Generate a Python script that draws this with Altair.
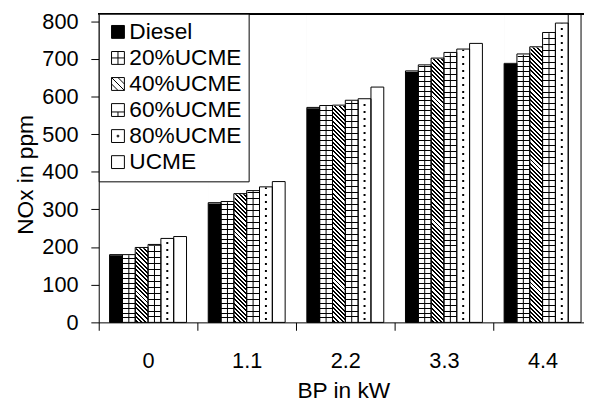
import altair as alt
import pandas as pd

# ---------------- data ----------------
BP = ["0", "1.1", "2.2", "3.3", "4.4"]
FUELS = ["Diesel", "20%UCME", "40%UCME", "60%UCME", "80%UCME", "UCME"]
DIESEL = [180, 318, 571, 668, 688]
UCME20 = [180, 321, 576, 684, 713]
UCME40 = [199, 342, 577, 702, 732]
UCME60 = [207, 350, 590, 717, 770]
UCME80 = [223, 360, 594, 726, 795]
UCME100 = [228, 374, 625, 741, 820]
Y_TICKS = [0, 100, 200, 300, 400, 500, 600, 700, 800]

SERIES = [DIESEL, UCME20, UCME40, UCME60, UCME80, UCME100]
df = pd.DataFrame(
    [{"bp": b, "fuel": f, "nox": v} for f, s in zip(FUELS, SERIES) for b, v in zip(BP, s)]
)

# ---------------- layout / style constants ----------------
FONT = "Liberation Sans"
YMAX = 820
PLOT_W = 492
PLOT_H = 313
XRANGE = 500
PAD_IN = 0.22
PAD_OUT = 0.11
BAR_W = 13  # resulting bar width in px (500/5 * 0.78 / 6)
CLEAR = "rgba(0,0,0,0)"


def r6(v):
    return round(v, 6)


def vstripe_grad(intervals, H, bg=CLEAR):
    """vertical-direction gradient: black bands at given px intervals (from top)."""
    stops = [{"offset": 0, "color": bg}]
    for a, b in sorted(intervals):
        a = max(a, 0)
        b = min(b, H)
        if b <= a:
            continue
        stops += [
            {"offset": r6(a / H), "color": bg},
            {"offset": r6(a / H), "color": "black"},
            {"offset": r6(b / H), "color": "black"},
            {"offset": r6(b / H), "color": bg},
        ]
    stops.append({"offset": 1, "color": bg})
    return {"gradient": "linear", "x1": 0, "y1": 0, "x2": 0, "y2": 1, "stops": stops}


def diag_grad(w, H, period, black):
    """'\\' hatch at 45 degrees on a w x H box."""
    L = w + H * H / w
    stops = [{"offset": 0, "color": "white"}]
    k = 0
    while k * period <= H + w:
        a = k * period
        b = a + black
        stops += [
            {"offset": r6(a / L), "color": "white"},
            {"offset": r6(a / L), "color": "black"},
            {"offset": r6(b / L), "color": "black"},
            {"offset": r6(b / L), "color": "white"},
        ]
        k += 1
    return {"gradient": "linear", "x1": 1, "y1": 0, "x2": 0, "y2": r6(H / w), "stops": stops}


GRID_P = 5
grid_h = vstripe_grad([(PLOT_H - GRID_P * k, PLOT_H - GRID_P * k + 1) for k in range(1, PLOT_H // GRID_P + 1)], PLOT_H)
BRICK_P = 6
brick_h = vstripe_grad([(PLOT_H - BRICK_P * k, PLOT_H - BRICK_P * k + 1) for k in range(1, PLOT_H // BRICK_P + 2)], PLOT_H)
brick_v1 = vstripe_grad([(PLOT_H - BRICK_P * (j + 1), PLOT_H - BRICK_P * j) for j in range(0, PLOT_H // BRICK_P + 2, 2)], PLOT_H)
brick_v2 = vstripe_grad([(PLOT_H - BRICK_P * (j + 1), PLOT_H - BRICK_P * j) for j in range(1, PLOT_H // BRICK_P + 2, 2)], PLOT_H)
DOT_P = 7
dots = vstripe_grad([(PLOT_H - DOT_P * k - 4, PLOT_H - DOT_P * k - 2) for k in range(0, PLOT_H // DOT_P + 1)], PLOT_H)
hatch = diag_grad(BAR_W, PLOT_H, 4.3, 2)

# ---------------- encodings ----------------
x_axis = alt.Axis(
    bandPosition=0, tickOffset=-11, labelOffset=11, tickSize=8, labelPadding=21,
    labelAngle=0, labelFont=FONT, labelFontSize=22, labelColor="black",
    titleFont=FONT, titleFontSize=23, titleFontWeight="normal", titleColor="black",
    titlePadding=8, titleX=248, domainColor="black", tickColor="black", grid=False,
)
y_axis = alt.Axis(
    values=Y_TICKS, tickSize=8, labelPadding=13, labelFont=FONT, labelFontSize=22,
    labelColor="black", titleFont=FONT, titleFontSize=23, titleFontWeight="normal",
    titleColor="black", titlePadding=4, titleY=163, domainColor="black",
    tickColor="black", grid=False,
)
x_scale = alt.Scale(domain=BP, range=[0, XRANGE], paddingInner=PAD_IN, paddingOuter=PAD_OUT)
y_scale = alt.Scale(domain=[0, YMAX], nice=False, zero=True)

x_enc = alt.X("bp:N", sort=BP, title="BP in kW", scale=x_scale, axis=x_axis)
xo_enc = alt.XOffset("fuel:N", sort=FUELS, scale=alt.Scale(domain=FUELS))
y_val = alt.Y("nox:Q", title="NOx in ppm", scale=y_scale, axis=y_axis)
y_top = alt.Y("top:Q", title="NOx in ppm", scale=y_scale, axis=y_axis)

base = alt.Chart(df).transform_calculate(top=str(YMAX), base="0")


def full(fuel, **mark):
    return (
        base.transform_filter(alt.datum.fuel == fuel)
        .mark_bar(**mark)
        .encode(x=x_enc, xOffset=xo_enc, y=y_top, y2=alt.Y2("base:Q"))
    )


layers = [
    full("Diesel", fill="black", strokeWidth=0),
    full("20%UCME", fill=grid_h, strokeWidth=0),
    full("20%UCME", fill="black", strokeWidth=0, width=1),
    full("40%UCME", fill=hatch, strokeWidth=0),
    full("60%UCME", fill=brick_h, strokeWidth=0),
    full("60%UCME", fill=brick_v1, strokeWidth=0, width=1, xOffset=-3),
    full("60%UCME", fill=brick_v2, strokeWidth=0, width=1, xOffset=3),
    full("80%UCME", fill=dots, strokeWidth=0, width=2, xOffset=0.5),
    # white cover above each bar's value
    base.mark_bar(fill="white", stroke="white", strokeWidth=1.5).encode(
        x=x_enc, xOffset=xo_enc, y=y_top, y2=alt.Y2("nox:Q")
    ),
    # outlines
    base.mark_bar(fill="white", fillOpacity=0, stroke="black", strokeWidth=1).encode(
        x=x_enc, xOffset=xo_enc, y=y_val
    ),
    # top frame line
    base.mark_rule(color="black", strokeWidth=1).encode(y=y_top),
]

PATHS = [
    "M-1,-1H1V1H-1Z",
    "M-1,-1H1V1H-1Z M0,-1V1 M-1,0H1",
    "M-1,-1H1V1H-1Z M-1,-1L1,1 M-1,0L0,1 M0,-1L1,0",
    "M-1,-1H1V1H-1Z M-1,0.3H1 M0,0.3V1",
    "M-1,-1H1V1H-1Z M-0.12,-0.12H0.12V0.12H-0.12Z",
    "M-1,-1H1V1H-1Z",
]
FILLS = ["black", "white", "white", "white", "white", "white"]
STROKES = ["black"] * 6

leg = alt.Legend(
    orient="top-left", offset=0, padding=7, strokeColor="black", fillColor="white",
    labelFont=FONT, labelFontSize=23, labelColor="black", symbolSize=170,
    symbolStrokeWidth=1, symbolStrokeColor="black", rowPadding=2.4, labelOffset=0,
    symbolOffset=1, cornerRadius=0,
)
legend_layer = (
    base.transform_filter("false")
    .mark_point(filled=True, strokeWidth=1, opacity=1)
    .encode(
        x=x_enc, xOffset=xo_enc, y=y_val,
        fill=alt.Fill("fuel:N", sort=FUELS, title=None,
                      scale=alt.Scale(domain=FUELS, range=FILLS), legend=leg),
        stroke=alt.Stroke("fuel:N", sort=FUELS, title=None,
                          scale=alt.Scale(domain=FUELS, range=STROKES), legend=leg),
        shape=alt.Shape("fuel:N", sort=FUELS, title=None,
                        scale=alt.Scale(domain=FUELS, range=PATHS), legend=leg),
    )
)
layers.append(legend_layer)

chart = (
    alt.layer(*layers)
    .properties(
        width=PLOT_W, height=PLOT_H,
        autosize=alt.AutoSizeParams(type="none"),
        padding={"left": 92, "top": 3, "right": 0, "bottom": 79},
        background="white",
    )
    .configure_view(strokeWidth=0)
)

chart.save("out.html", embed_options={"renderer": "svg", "actions": False})
